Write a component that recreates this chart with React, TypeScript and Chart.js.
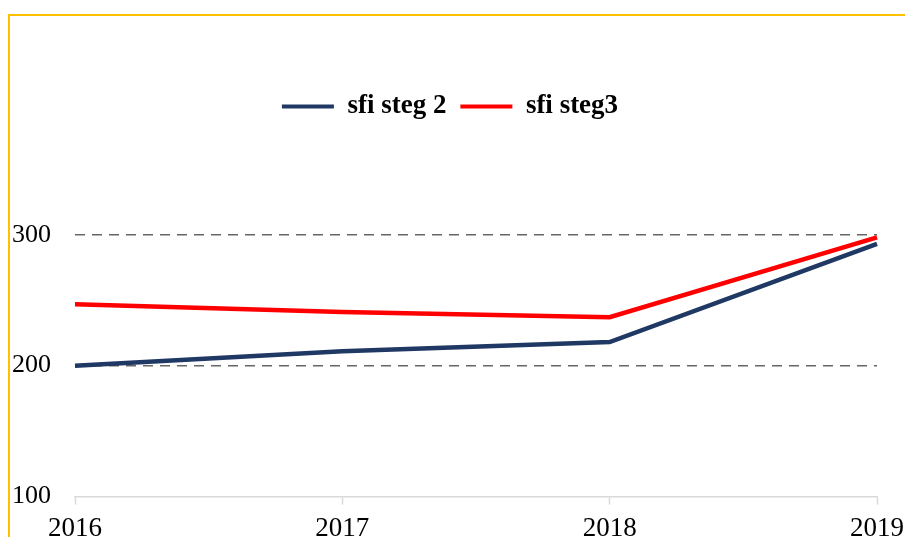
import { useEffect, useRef } from "react";
import { Chart, registerables } from "chart.js";

Chart.register(...registerables);

const categories = ["2016", "2017", "2018", "2019"];
const sfiSteg2 = [200, 211, 218, 293];
const sfiSteg3 = [247, 241, 237, 298];
const yTickValues = [100, 200, 300];
const seriesLabels = ["sfi steg 2", "sfi steg3"];

const SERIF = "'Liberation Serif', 'Times New Roman', 'DejaVu Serif', serif";

export default function App() {
  const canvasRef = useRef<HTMLCanvasElement | null>(null);

  useEffect(() => {
    const canvas = canvasRef.current;
    if (!canvas) return;
    const chart = new Chart(canvas, {
      type: "line",
      data: {
        labels: categories,
        datasets: [
          {
            label: seriesLabels[0],
            data: sfiSteg2,
            borderColor: "#1F3864",
            backgroundColor: "#1F3864",
            borderWidth: 4.5,
            pointRadius: 0,
            tension: 0,
          },
          {
            label: seriesLabels[1],
            data: sfiSteg3,
            borderColor: "#FF0000",
            backgroundColor: "#FF0000",
            borderWidth: 4.5,
            pointRadius: 0,
            tension: 0,
          },
        ],
      },
      options: {
        responsive: false,
        animation: false,
        devicePixelRatio: 1,
        layout: { padding: { left: -12, right: 0, top: 79, bottom: 0 } },
        plugins: {
          tooltip: { enabled: false },
          legend: {
            position: "top",
            align: "center",
            labels: {
              boxWidth: 52,
              boxHeight: 4,
              padding: 14,
              color: "#000",
              font: { family: SERIF, size: 27, weight: "bold" },
              generateLabels: (c: any) =>
                c.data.datasets.map((ds: any, i: number) => ({
                  text: ds.label,
                  fillStyle: ds.borderColor,
                  strokeStyle: ds.borderColor,
                  lineWidth: 0,
                  hidden: false,
                  datasetIndex: i,
                  fontColor: "#000",
                })),
            },
          },
        },
        scales: {
          x: {
            offset: false,
            grid: {
              drawOnChartArea: false,
              drawTicks: true,
              tickLength: 8,
              tickColor: "#D9D9D9",
              tickWidth: 1.5,
            },
            border: { display: true, color: "#D9D9D9", width: 1.5 },
            ticks: {
              padding: 8,
              color: "#000",
              font: { family: SERIF, size: 27 },
              maxRotation: 0,
              autoSkip: false,
            },
          },
          y: {
            min: 100,
            max: 380,
            afterBuildTicks: (scale: any) => {
              scale.ticks = yTickValues.map((v) => ({ value: v }));
            },
            grid: {
              drawTicks: false,
              lineWidth: 1.6,
              color: (ctx: any) =>
                ctx.tick && ctx.tick.value === 100 ? "rgba(0,0,0,0)" : "#666666",
            },
            border: { display: false, dash: [10, 7] },
            ticks: {
              padding: 24,
              color: "#000",
              font: { family: SERIF, size: 26 },
            },
          },
        },
      },
    });
    return () => chart.destroy();
  }, []);

  return (
    <div
      style={{
        position: "fixed",
        left: 0,
        top: 0,
        width: 905,
        height: 537,
        overflow: "hidden",
        background: "#fff",
      }}
    >
      <div
        style={{
          position: "absolute",
          left: 8,
          top: 14,
          width: 2000,
          height: 2000,
          borderLeft: "2.5px solid #FFC000",
          borderTop: "2.5px solid #FFC000",
        }}
      />
      <canvas
        ref={canvasRef}
        width={912}
        height={553}
        style={{ position: "absolute", left: 0, top: 0, width: 912, height: 553 }}
      />
    </div>
  );
}
